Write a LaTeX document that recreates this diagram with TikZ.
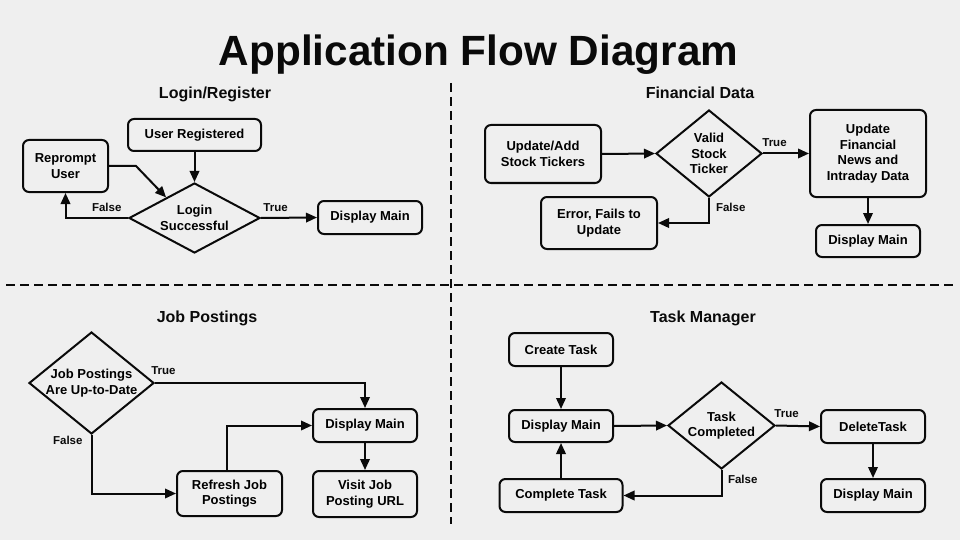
\documentclass[tikz,border=0pt]{standalone}
\usepackage{fontspec}
\setmainfont{Liberation Sans}
\usetikzlibrary{shapes.geometric,arrows.meta}
\definecolor{bgc}{RGB}{239,239,239}
\definecolor{ink}{RGB}{10,10,10}
\begin{document}
\begin{tikzpicture}[x=1pt,y=-1pt,
  box/.style={draw=ink, line width=2pt, rounded corners=6pt, align=center, inner sep=0pt,
    font=\fontsize{13}{15.6}\selectfont\bfseries},
  dec/.style={diamond, draw=ink, line width=2pt, align=center, inner sep=0pt,
    font=\fontsize{13}{15.6}\selectfont\bfseries},
  arr/.style={draw=ink, line width=2pt, -{Triangle[length=11pt,width=9.5pt]}},
  lbl/.style={font=\fontsize{11.5}{13}\selectfont\bfseries, inner sep=0pt, text=ink},
  ttl/.style={font=\fontsize{16}{19}\selectfont\bfseries, anchor=base, text=ink},
  divider/.style={draw=ink, line width=2pt, dash pattern=on 9pt off 5pt}
]
\useasboundingbox (0,0) rectangle (960,540);
\fill[bgc] (0,0) rectangle (960,540);

% title
\node[anchor=base, font=\fontsize{42.3}{50}\selectfont\bfseries, text=ink] (title) at (478.5,66) {Application Flow Diagram};

% dividers
\coordinate (vtop) at (450.5,83);
\coordinate (vbot) at (450.5,524);
\coordinate (hl) at (6,285);
\coordinate (hr) at (954,285);
\draw[divider] (vtop) -- (vbot);
\draw[divider] (hl) -- (hr);

% ---------- Login/Register ----------
\node[ttl] (t1) at (215,98.5) {Login/Register};
\node[box, minimum width=133pt, minimum height=32pt] (ur) at (194.5,135) {User Registered};
\node[box, minimum width=85pt, minimum height=52pt] (rp) at (65.5,166) {Reprompt\\User};
\node[dec, minimum width=131pt, minimum height=70pt, aspect=1.87] (ls) at (194.5,218) {Login\\Successful};
\node[box, minimum width=104pt, minimum height=33pt] (dm0) at (370,217.5) {Display Main};

\draw[arr] (ur.south) -- (ls.north);
\draw[arr] (rp.east) -- ([xshift=27pt]rp.east) -- (ls.144);
\draw[arr] (ls.west) -| node[lbl, pos=0.17, above=5.5pt] {False} (rp.south);
\draw[arr] (ls.east) -- node[lbl, pos=0.26, above=5.5pt] {True} (dm0.west);

% ---------- Financial Data ----------
\node[ttl] (t2) at (700,98.5) {Financial Data};
\node[box, minimum width=116pt, minimum height=58pt] (uas) at (543,154) {Update/Add\\Stock Tickers};
\node[dec, minimum width=106pt, minimum height=87pt, aspect=1.22] (vst) at (709,153.5) {Valid\\Stock\\Ticker};
\node[box, minimum width=116pt, minimum height=87pt] (ufn) at (868,153.5) {Update\\Financial\\News and\\Intraday Data};
\node[box, minimum width=116pt, minimum height=52pt] (err) at (599,223) {Error, Fails to\\Update};
\node[box, minimum width=104pt, minimum height=32pt] (dm1) at (868,241) {Display Main};

\draw[arr] (uas.east) -- (vst.west);
\draw[arr] (vst.east) -- node[lbl, pos=0.25, above=6pt] {True} (ufn.west);
\draw[arr] (vst.south) |- node[lbl, pos=0.19, right=6pt] {False} (err.east);
\draw[arr] (ufn.south) -- (dm1.north);

% ---------- Job Postings ----------
\node[ttl] (t3) at (207,322) {Job Postings};
\node[dec, minimum width=125pt, minimum height=102pt, aspect=1.23, inner sep=-4pt] (jp) at (91.5,383) {Job Postings\\Are Up-to-Date};
\node[box, minimum width=104pt, minimum height=33pt] (dmj) at (365,425.5) {Display Main};
\node[box, minimum width=105pt, minimum height=45pt] (rj) at (229.5,493.5) {Refresh Job\\Postings};
\node[box, minimum width=104pt, minimum height=46pt] (vj) at (365,494) {Visit Job\\Posting URL};

\draw[arr] (jp.east) -| node[lbl, pos=0.02, above=7pt] {True} (dmj.north);
\draw[arr] (jp.south) |- node[lbl, pos=0.045, left=8pt] {False} (rj.west);
\draw[arr] ([xshift=-2.5pt]rj.north) |- (dmj.west);
\draw[arr] (dmj.south) -- (vj.north);

% ---------- Task Manager ----------
\node[ttl] (t4) at (703,322) {Task Manager};
\node[box, minimum width=104pt, minimum height=33pt] (ct) at (561,349.5) {Create Task};
\node[box, minimum width=104pt, minimum height=32pt] (dmt) at (561,426) {Display Main};
\node[box, minimum width=123pt, minimum height=33pt] (cpt) at (561,495.5) {Complete Task};
\node[dec, minimum width=107pt, minimum height=87pt, aspect=1.23] (tc) at (721.5,425.5) {Task\\Completed};
\node[box, minimum width=104pt, minimum height=33pt] (dt) at (873,426.5) {DeleteTask};
\node[box, minimum width=104pt, minimum height=33pt] (dm2) at (873,495.5) {Display Main};

\draw[arr] (ct.south) -- (dmt.north);
\draw[arr] (dmt.east) -- (tc.west);
\draw[arr] (tc.east) -- node[lbl, pos=0.24, above=7pt] {True} (dt.west);
\draw[arr] (tc.south) |- node[lbl, pos=0.19, right=5.5pt] {False} (cpt.east);
\draw[arr] (cpt.north) -- (dmt.south);
\draw[arr] (dt.south) -- (dm2.north);
\end{tikzpicture}
\end{document}
